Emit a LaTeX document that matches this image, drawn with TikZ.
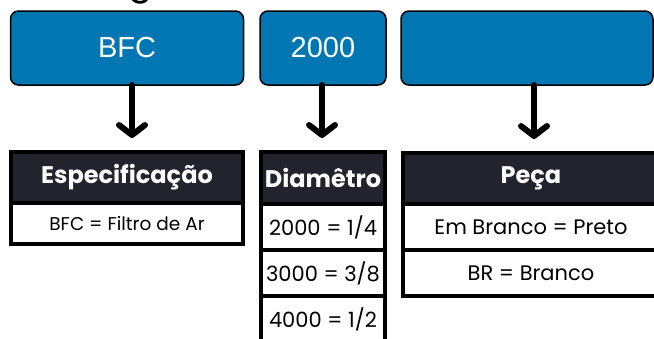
\documentclass[tikz,border=0pt]{standalone}
\usepackage{fontspec}
\setmainfont{Poppins}
\newfontfamily\boxfont{Liberation Sans}
\usetikzlibrary{positioning,arrows.meta}
\definecolor{boxblue}{RGB}{0,119,179}
\definecolor{headdark}{RGB}{34,35,45}
\tikzset{
	codebox/.style={draw=black, line width=1.5pt, fill=boxblue, rounded corners=8pt, text=white, font=\boxfont\fontsize{29}{30}\selectfont, minimum height=74pt, inner sep=0pt, outer sep=0pt, anchor=north west},
	headcell/.style={draw=black, line width=4pt, fill=headdark, text=white, font=\bfseries\fontsize{24}{28}\selectfont, inner sep=0pt, outer sep=0pt},
	rowcell/.style={draw=black, line width=4pt, fill=white, font=\fontsize{21}{24}\selectfont, inner sep=0pt, outer sep=0pt, minimum height=46pt},
	pointer/.style={line width=6pt, line cap=round, -{Straight Barb[length=10pt,width=26pt,round]}, shorten >=14pt}
}
\begin{document}
\begin{tikzpicture}[x=1pt, y=-1pt]
	\clip (0,0) rectangle (654,338);
	\useasboundingbox (0,0) rectangle (654,338);
	% title (cut off)
	\node[anchor=base, inner sep=0pt, font=\fontsize{36}{40}\selectfont] (title) at (141,-6) {g};
	% code boxes
	\node[codebox, minimum width=233pt] (bfc) at (10.5,11) {BFC};
	\node[codebox, minimum width=126pt] (size) at (260,11) {2000};
	\node[codebox, minimum width=252pt] (part) at (401,11) {};
	% tables
	\node[headcell, minimum width=232pt, minimum height=51pt, anchor=north west] (spec) at (11,152) {Especificação};
	\node[rowcell, minimum width=232pt, minimum height=41pt, below=0pt of spec, font=\fontsize{18.5}{22}\selectfont] (specA) {BFC = Filtro de Ar};
	\node[headcell, minimum width=124pt, minimum height=52pt, anchor=north west] (diam) at (261,152) {Diamêtro};
	\node[rowcell, minimum width=124pt, below=0pt of diam] (diamA) {2000 = 1/4};
	\node[rowcell, minimum width=124pt, below=0pt of diamA] (diamB) {3000 = 3/8};
	\node[rowcell, minimum width=124pt, below=0pt of diamB] (diamC) {4000 = 1/2};
	\node[headcell, minimum width=256pt, minimum height=51pt, anchor=north west] (peca) at (403,153) {Peça};
	\node[rowcell, minimum width=256pt, below=0pt of peca] (pecaA) {Em Branco = Preto};
	\node[rowcell, minimum width=256pt, below=0pt of pecaA] (pecaB) {BR = Branco};
	% arrows
	\draw[pointer] ([xshift=5pt]bfc.south) -- ([xshift=5pt]spec.north);
	\draw[pointer] ([xshift=-1pt]size.south) -- ([xshift=-1pt]diam.north);
	\draw[pointer] ([xshift=7pt]part.south) -- ([xshift=3pt]peca.north);
\end{tikzpicture}
\end{document}
